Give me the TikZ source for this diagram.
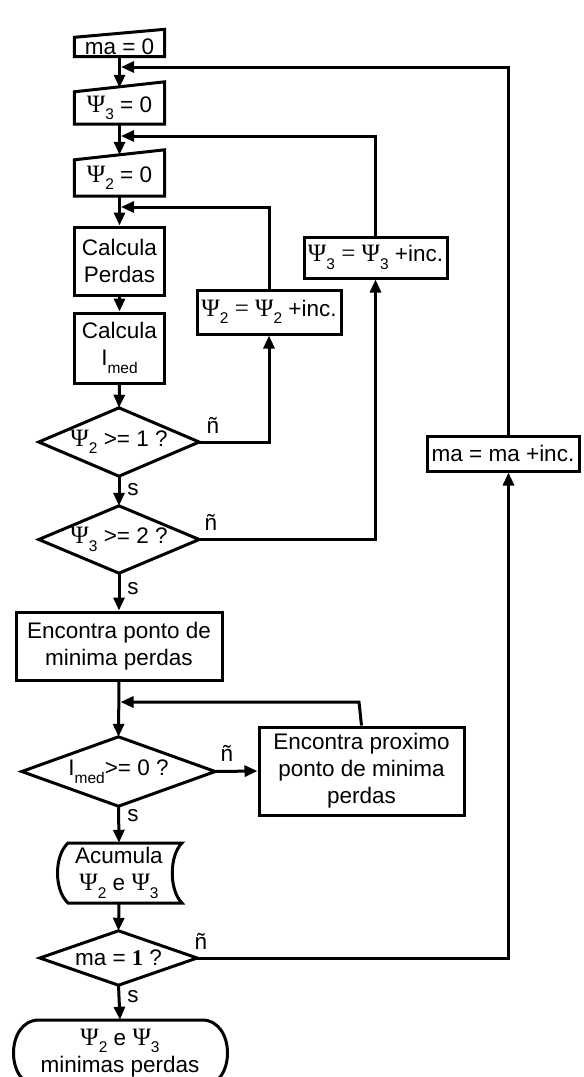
\documentclass[tikz,border=0pt]{standalone}
\usepackage{fontspec}
\setmainfont{Liberation Sans}
\newfontfamily\grk{Liberation Serif}
\usetikzlibrary{arrows.meta}
\newcommand{\Ps}[1]{{\grk\fontsize{25}{27}\selectfont Ψ}\raisebox{-7.5pt}{\fontsize{15.5}{15}\selectfont #1}}
\newcommand{\Imed}{I\raisebox{-7.5pt}{\fontsize{15.5}{15}\selectfont med}}
\begin{document}
\begin{tikzpicture}[x=1pt,y=-1pt,
  every node/.style={font=\fontsize{22.5}{27}\selectfont},
  ln/.style={line width=3pt},
  box/.style={draw, line width=3pt, rectangle, inner sep=0pt, align=center},
  txt/.style={inner sep=0pt, align=center},
  arr/.style={ln, -{Triangle[length=13pt,width=11pt]}},
  jarr/.style={arr, shorten >=1.5pt},
  lbl/.style={inner sep=0pt},
]
\useasboundingbox (0,0) rectangle (584,1077);
\clip (0,0) rectangle (584,1077);
\fill[white] (0,0) rectangle (584,1077);

% manual inputs
\node[txt, minimum width=90pt, minimum height=19pt] (ma0) at (119.5,47) {ma = 0};
\draw[ln] (ma0.south west) -- (ma0.north west) -- ([yshift=8pt]ma0.north east) -- (ma0.south east) -- cycle;
\node[txt, minimum width=90pt, minimum height=32pt] (psi3) at (119.5,108) {\Ps{3} = 0};
\draw[ln] (psi3.south west) -- (psi3.north west) -- ([yshift=10pt]psi3.north east) -- (psi3.south east) -- cycle;
\node[txt, minimum width=90pt, minimum height=36pt] (psi2) at (119.5,178) {\Ps{2} = 0};
\draw[ln] (psi2.south west) -- (psi2.north west) -- ([yshift=10pt]psi2.north east) -- (psi2.south east) -- cycle;

% process boxes
\node[box, minimum width=90pt, minimum height=68pt] (cp) at (119.5,261) {Calcula\\Perdas};
\node[box, minimum width=90pt, minimum height=70pt] (ci) at (119.5,348) {Calcula\\\Imed};
\node[box, minimum width=144pt, minimum height=44pt] (p2) at (269,312) {\Ps{2} {\grk\fontsize{25}{27}\selectfont =} \Ps{2} +inc.};
\node[box, minimum width=143pt, minimum height=41pt] (p3) at (375.5,257.5) {\Ps{3} {\grk\fontsize{25}{27}\selectfont =} \Ps{3} +inc.};
\node[box, minimum width=152pt, minimum height=35pt] (mainc) at (503,453.5) {ma = ma +inc.};
\node[box, minimum width=206pt, minimum height=68pt] (ep) at (119,646) {Encontra ponto de\\minima perdas};
\node[box, minimum width=205pt, minimum height=88pt] (ep2) at (361.5,771) {Encontra proximo\\ponto de minima\\perdas};

% decisions
\node[txt, minimum width=160pt, minimum height=68pt] (d1) at (119,442) {\Ps{2} >= 1 ?};
\draw[ln] (d1.north) -- (d1.east) -- (d1.south) -- (d1.west) -- cycle;
\node[txt, minimum width=160pt, minimum height=67pt] (d2) at (119,539.5) {\Ps{3} >= 2 ?};
\draw[ln] (d2.north) -- (d2.east) -- (d2.south) -- (d2.west) -- cycle;
\node[txt, minimum width=193pt, minimum height=69pt] (d3) at (118.5,771.5) {\Imed >= 0 ?};
\draw[ln] (d3.north) -- (d3.east) -- (d3.south) -- (d3.west) -- cycle;
\node[txt, minimum width=157pt, minimum height=54pt] (d4) at (118.5,958) {ma = {\grk\bfseries 1} ?};
\draw[ln] (d4.north) -- (d4.east) -- (d4.south) -- (d4.west) -- cycle;

% stored data
\node[txt, minimum width=110pt, minimum height=60pt] (ac) at (119,873) {Acumula\\\Ps{2} e \Ps{3}};
\draw[ln] (68,843) -- (182,843) .. controls (169,856) and (169,890) .. (182,903)
  -- (68,903) .. controls (54,890) and (54,856) .. (68,843) -- cycle;

% terminal
\node[txt, minimum width=150pt, minimum height=66pt] (term) at (120,1053) {\Ps{2} e \Ps{3}\\minimas perdas};
\draw[ln] (39,1020) -- (202,1020) .. controls (236,1020) and (236,1086) .. (202,1086)
  -- (39,1086) .. controls (5,1086) and (5,1020) .. (39,1020) -- cycle;

% labels
\node[lbl] (n1) at (213,425) {ñ};
\node[lbl] (n2) at (211,522) {ñ};
\node[lbl] (n3) at (227,753) {ñ};
\node[lbl] (n4) at (201,941) {ñ};
\node[lbl] (s1) at (133,490) {s};
\node[lbl] (s2) at (133,589) {s};
\node[lbl] (s3) at (133,816) {s};
\node[lbl] (s4) at (133,997) {s};

% junctions
\coordinate (j1) at (119.5,67);
\coordinate (j2) at (119.5,136);
\coordinate (j3) at (119.5,207);
\coordinate (j4) at (119,702);
\coordinate (k) at (359,702);

% main flow
\draw[arr] (ma0.south) -- ([yshift=4pt]psi3.north);
\draw[arr] (psi3.south) -- ([yshift=5pt]psi2.north);
\draw[arr] (psi2.south) -- (cp.north);
\draw[arr] (cp.south) -- (ci.north);
\draw[arr] (ci.south) -- (d1.north);
\draw[arr] (d1.south) -- (d2.north);
\draw[arr] (d2.south) -- (ep.north);
\draw[arr] (ep.south) -- (d3.north);
\draw[arr] (d3.east) -- (ep2.west);
\draw[arr] (d3.south) -- (ac.north);
\draw[arr] (ac.south) -- (d4.north);
\draw[arr] (d4.south) -- (term.north);

% loops
\draw[arr] (d1.east) -| (p2.south);
\draw[jarr] (p2.north) |- (j3);
\draw[arr] (d2.east) -| (p3.south);
\draw[jarr] (p3.north) |- (j2);
\draw[arr] (d4.east) -| ([xshift=5.5pt]mainc.south);
\draw[jarr] ([xshift=5.5pt]mainc.north) |- (j1);
\draw[jarr] (ep2.north) -- (k) -- (j4);
\end{tikzpicture}
\end{document}
